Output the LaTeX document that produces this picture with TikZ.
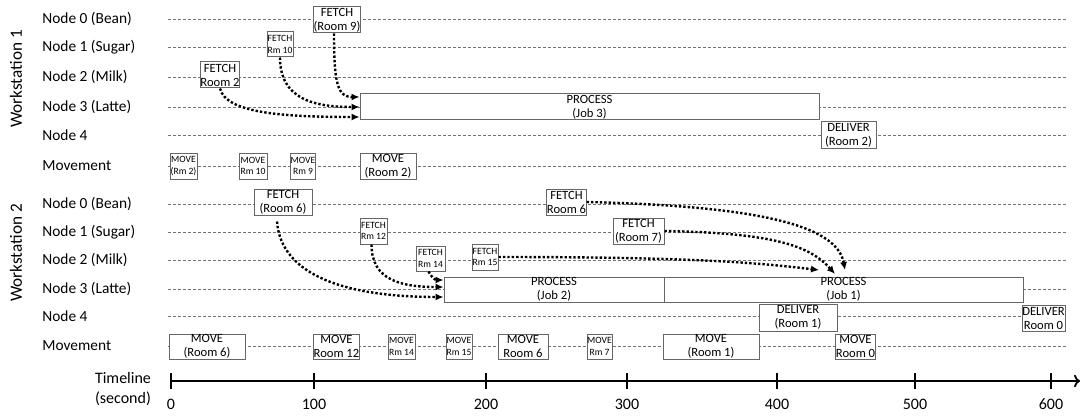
\documentclass[tikz,border=0pt]{standalone}
\usepackage{fontspec}
\setmainfont{Carlito}
\usetikzlibrary{arrows.meta}

\begin{document}
\begin{tikzpicture}[x=0.5pt, y=0.5pt,
  lane/.style={dash pattern=on 1.5pt off 1pt, line width=0.3pt, black!55},
  ev/.style 2 args={draw=black!60, line width=0.5pt, fill=white, inner sep=0pt, align=center,
    minimum width=#1*0.5pt, minimum height=#2*0.5pt, font=\fontsize{6.3}{7}\selectfont},
  evs/.style 2 args={ev={#1}{#2}, font=\fontsize{4.8}{5.8}\selectfont},
  flow/.style={line width=1.2pt, dash pattern=on 1.2pt off 1pt, -{Latex[length=4pt, width=3.6pt]}},
  rowlbl/.style={anchor=west, inner sep=0pt, font=\fontsize{7.7}{9}\selectfont}]
\useasboundingbox (0,0) rectangle (1081,-417);

\foreach \i/\y/\t in {1/19/Node 0 (Bean), 2/47/Node 1 (Sugar), 3/77/Node 2 (Milk),
    4/107/Node 3 (Latte), 5/135/Node 4, 6/166/Movement,
    7/204/Node 0 (Bean), 8/232/Node 1 (Sugar), 9/260/Node 2 (Milk),
    10/289/Node 3 (Latte), 11/316/Node 4, 12/346/Movement} {
  \node[rowlbl] (L\i) at (42,-\y) {\t};
  \draw[lane] (168,-\y) -- (1067,-\y);
}
\node[rotate=90, font=\fontsize{8.6}{10}\selectfont] (W1) at (16,-79) {Workstation 1};
\node[rotate=90, font=\fontsize{8.6}{10}\selectfont] (W2) at (16,-253) {Workstation 2};

\node[ev={46}{26}] (F9) at (337,-20) {FETCH\\(Room 9)};
\node[evs={26}{25}] (F10) at (280,-44.5) {FETCH\\Rm 10};
\node[ev={38}{26}] (F2) at (220,-75) {FETCH\\Room 2};
\node[ev={459}{26}] (P3) at (589.5,-107) {PROCESS\\(Job 3)};
\node[ev={55}{26}] (D2) at (848.5,-135) {DELIVER\\(Room 2)};
\node[evs={27}{26}] (M1) at (183.5,-166) {MOVE\\(Rm 2)};
\node[evs={28}{26}] (M2) at (253,-166) {MOVE\\Rm 10};
\node[evs={24}{26}] (M3) at (303,-166) {MOVE\\Rm 9};
\node[ev={56}{26}] (M4) at (388,-166) {MOVE\\(Room 2)};
\draw[flow] ([xshift=-1.5pt]F9.south) .. controls +(0,-50) and +(-22,0) .. ([yshift=5pt]P3.west);
\draw[flow] (F10.south) .. controls +(0,-42) and +(-45,0) .. (P3.west);
\draw[flow] (F2.south) .. controls +(6,-24) and +(-80,0) .. ([yshift=-5pt]P3.west);

\node[ev={58}{26}] (G6) at (283,-202) {FETCH\\(Room 6)};
\node[evs={27}{26}] (G12) at (373.5,-231) {FETCH\\Rm 12};
\node[evs={29}{25}] (G14) at (430.5,-258.5) {FETCH\\Rm 14};
\node[evs={26}{26}] (G15) at (485,-257) {FETCH\\Rm 15};
\node[ev={39}{26}] (G6b) at (566.5,-202) {FETCH\\Room 6};
\node[ev={51}{26}] (G7) at (638.5,-231) {FETCH\\(Room 7)};
\node[ev={220}{25}] (P2) at (554,-289.5) {PROCESS\\(Job 2)};
\node[ev={359}{25}] (P1) at (843.5,-289.5) {PROCESS\\(Job 1)};
\node[ev={78}{27}] (D1) at (798,-317.5) {DELIVER\\(Room 1)};
\node[ev={43}{26}] (D0) at (1043.5,-318) {DELIVER\\Room 0};
\node[ev={76}{25}] (N1) at (207,-346.5) {MOVE\\(Room 6)};
\node[ev={45}{25}] (N2) at (336.5,-346.5) {MOVE\\Room 12};
\node[evs={27}{25}] (N3) at (401.5,-346.5) {MOVE\\Rm 14};
\node[evs={26}{25}] (N4) at (459,-346.5) {MOVE\\Rm 15};
\node[ev={50}{25}] (N5) at (523,-346.5) {MOVE\\Room 6};
\node[evs={25}{25}] (N6) at (599.5,-346.5) {MOVE\\Rm 7};
\node[ev={96}{25}] (N7) at (711,-346.5) {MOVE\\(Room 1)};
\node[ev={37}{25}] (N8) at (855.5,-346.5) {MOVE\\Room 0};
\coordinate (J15) at (819,-270);
\coordinate (J7) at (835,-274);
\coordinate (J6) at (845,-270);
\draw[flow] ([shift={(-3pt,-3pt)}]G6.south) .. controls +(4,-55) and +(-95,0) .. ([yshift=-3.75pt]P2.west);
\draw[flow] ([xshift=-1pt]G12.south) .. controls +(0,-36) and +(-42,0) .. ([yshift=1.25pt]P2.west);
\draw[flow] ([xshift=-1pt]G14.south) .. controls +(3,-6) and +(-8,0) .. ([yshift=4.75pt]P2.west);
\draw[flow] (G15.east) .. controls +(200,0) and +(-60,7) .. (J15);
\draw[flow] (G7.east) .. controls +(110,-2) and +(-25,28) .. (J7);
\draw[flow] (G6b.east) .. controls +(170,-4) and +(-8,45) .. (J6);

\coordinate (T0) at (171,-381);
\coordinate (T1) at (1080,-381);
\draw[line width=0.9pt, -{To[length=3pt]}] (T0) -- (T1);
\foreach \x/\v in {171/0, 314/100, 486/200, 627/300, 777/400, 915/500, 1051/600} {
  \draw[line width=0.9pt] (\x,-373) -- (\x,-389);
  \node[font=\fontsize{8}{9}\selectfont] (V\v) at (\x,-404) {\v};
}
\node[align=center, font=\fontsize{8}{10}\selectfont] (TL) at (123,-389) {Timeline\\(second)};
\end{tikzpicture}
\end{document}
